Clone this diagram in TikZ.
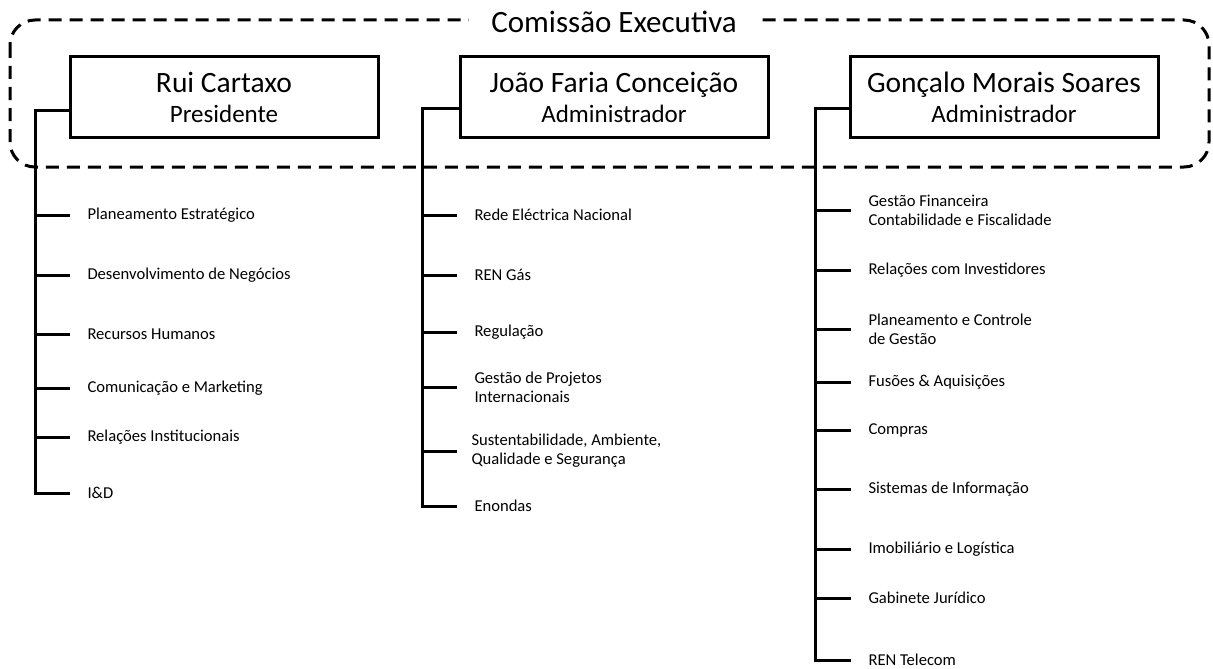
\documentclass[tikz,border=0pt]{standalone}
\usepackage{fontspec}
\setmainfont{Carlito}
\newcommand{\cargo}{\fontsize{25}{30}\selectfont}

\begin{document}
\begin{tikzpicture}[x=1pt,y=-1pt,line width=3pt,
	chief/.style={draw,minimum width=308pt,minimum height=80pt,align=center,inner sep=0pt,font=\fontsize{29.5}{30}\selectfont},
	unit/.style={anchor=west,align=left,inner sep=0pt,font=\fontsize{16.6}{19}\selectfont},
	tick/.style={shorten <=16pt}]
\useasboundingbox (0,0) rectangle (1213,669);

% comissao executiva
\draw[dash pattern=on 13pt off 8pt,rounded corners=25pt] (10,20) rectangle (1209,167);
\node[fill=white,inner xsep=22pt,anchor=base,font=\fontsize{31}{32}\selectfont] (ce) at (614,33) {Comissão Executiva};

\node[chief] (rc) at (224,97) {Rui Cartaxo\\\cargo Presidente};
\node[chief] (jfc) at (614,97) {João Faria Conceição\\\cargo Administrador};
\node[chief] (gms) at (1004,97) {Gonçalo Morais Soares\\\cargo Administrador};

% presidente
\coordinate (t1) at (35,110);
\node[unit] (pe) at (86,215) {Planeamento Estratégico};
\node[unit] (dn) at (86,275) {Desenvolvimento de Negócios};
\node[unit] (rh) at (86,334) {Recursos Humanos};
\node[unit] (cm) at (86,388) {Comunicação e Marketing};
\node[unit] (ri) at (86,437) {Relações Institucionais};
\node[unit] (id) at (86,493) {I\&D};
\draw[shorten >=16pt] (rc.west |- t1) -- (t1) |- (id.west);
\draw[tick] (pe.west) -- (pe.west -| t1);
\draw[tick] (dn.west) -- (dn.west -| t1);
\draw[tick] (rh.west) -- (rh.west -| t1);
\draw[tick] (cm.west) -- (cm.west -| t1);
\draw[tick] (ri.west) -- (ri.west -| t1);

% administrador 1
\coordinate (t2) at (422,108);
\node[unit] (ren) at (473,215) {Rede Eléctrica Nacional};
\node[unit] (gas) at (473,275) {REN Gás};
\node[unit] (reg) at (473,332) {Regulação};
\node[unit] (gpi) at (473,387) {Gestão de Projetos\\Internacionais};
\node[unit] (saq) at (470,451) {Sustentabilidade, Ambiente,\\Qualidade e Segurança};
\node[unit] (eno) at (473,506) {Enondas};
\draw[shorten >=16pt] (jfc.west |- t2) -- (t2) |- (eno.west);
\draw[tick] (ren.west) -- (ren.west -| t2);
\draw[tick] (gas.west) -- (gas.west -| t2);
\draw[tick] (reg.west) -- (reg.west -| t2);
\draw[tick] (gpi.west) -- (gpi.west -| t2);
\draw[shorten <=13pt] (saq.west) -- (saq.west -| t2);

% administrador 2
\coordinate (t3) at (815,108);
\node[unit] (gf) at (867,210) {Gestão Financeira\\Contabilidade e Fiscalidade};
\node[unit] (rci) at (867,270) {Relações com Investidores};
\node[unit] (pcg) at (867,329) {Planeamento e Controle\\de Gestão};
\node[unit] (fa) at (867,382) {Fusões \& Aquisições};
\node[unit] (co) at (867,430) {Compras};
\node[unit] (si) at (867,489) {Sistemas de Informação};
\node[unit] (il) at (867,549) {Imobiliário e Logística};
\node[unit] (gj) at (867,598) {Gabinete Jurídico};
\node[unit] (rt) at (867,660) {REN Telecom};
\draw[shorten >=16pt] (gms.west |- t3) -- (t3) |- (rt.west);
\draw[tick] (gf.west) -- (gf.west -| t3);
\draw[tick] (rci.west) -- (rci.west -| t3);
\draw[tick] (pcg.west) -- (pcg.west -| t3);
\draw[tick] (fa.west) -- (fa.west -| t3);
\draw[tick] (co.west) -- (co.west -| t3);
\draw[tick] (si.west) -- (si.west -| t3);
\draw[tick] (il.west) -- (il.west -| t3);
\draw[tick] (gj.west) -- (gj.west -| t3);
\end{tikzpicture}
\end{document}
